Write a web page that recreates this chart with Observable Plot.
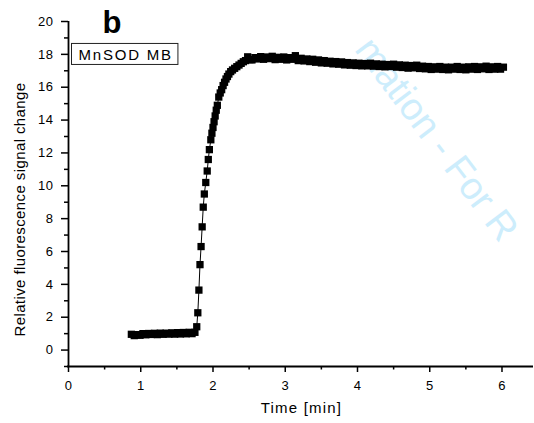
<!DOCTYPE html>
<html>
<head>
<meta charset="utf-8">
<script src="https://cdn.jsdelivr.net/npm/d3@7"></script>
<script src="https://cdn.jsdelivr.net/npm/@observablehq/plot@0.6"></script>
<style>
  html, body { margin: 0; padding: 0; background: #fff; }
  #chart svg { display: block; }
  .tick-lbl text { letter-spacing: 0.5px; }
</style>
</head>
<body>
<div id="chart"></div>
<script>
// Time [min]
const time = [
  0.87, 0.91, 0.95, 0.99, 1.03, 1.07, 1.11, 1.15, 1.19, 1.23, 1.27, 1.31,
  1.35, 1.39, 1.43, 1.47, 1.51, 1.55, 1.59, 1.63, 1.67, 1.71, 1.75,
  1.775, 1.79, 1.805, 1.82, 1.835, 1.85, 1.865, 1.88, 1.90, 1.92, 1.935, 1.95,
  1.97, 1.985, 2.00, 2.015, 2.03, 2.045, 2.06, 2.08, 2.10, 2.12, 2.14, 2.16,
  2.18, 2.20, 2.22, 2.245, 2.27, 2.30, 2.33, 2.36, 2.39, 2.42, 2.45, 2.48, 2.51,
  2.54, 2.58, 2.62, 2.66, 2.70, 2.74, 2.78, 2.82, 2.86, 2.90, 2.94, 2.98,
  3.02, 3.06, 3.10, 3.14, 3.18, 3.22, 3.26, 3.30, 3.34, 3.38, 3.42, 3.46,
  3.50, 3.54, 3.58, 3.62, 3.66, 3.70, 3.74, 3.78, 3.82, 3.86, 3.90, 3.94,
  3.98, 4.02, 4.06, 4.10, 4.14, 4.18, 4.22, 4.26, 4.30, 4.34, 4.38, 4.42,
  4.46, 4.50, 4.54, 4.58, 4.62, 4.66, 4.70, 4.74, 4.78, 4.82, 4.86, 4.90,
  4.94, 4.98, 5.02, 5.06, 5.10, 5.14, 5.18, 5.22, 5.26, 5.30, 5.34, 5.38,
  5.42, 5.46, 5.50, 5.54, 5.58, 5.62, 5.66, 5.70, 5.74, 5.78, 5.82, 5.86,
  5.90, 5.94, 5.98, 6.02
];
// Relative fluorescence signal change
const signal = [
  0.96, 0.88, 0.94, 0.90, 1.00, 0.93, 1.01, 0.95, 1.02, 0.94, 1.03, 0.96,
  1.03, 0.97, 1.05, 0.97, 1.06, 0.98, 1.07, 0.99, 1.08, 1.00, 1.08,
  1.42, 2.27, 3.65, 5.2, 6.3, 7.5, 8.7, 9.5, 10.2, 10.9, 11.6, 12.2,
  12.8, 13.2, 13.55, 13.9, 14.25, 14.6, 14.9, 15.4, 15.65, 15.85, 16.1, 16.3,
  16.5, 16.65, 16.8, 16.95, 17.05, 17.15, 17.25, 17.35, 17.45, 17.55, 17.62, 17.85, 17.68,
  17.66, 17.80, 17.72, 17.86, 17.70, 17.84, 17.74, 17.88, 17.68, 17.82, 17.70, 17.84,
  17.66, 17.80, 17.70, 17.92, 17.62, 17.76, 17.60, 17.72, 17.56, 17.70, 17.52, 17.66,
  17.48, 17.62, 17.46, 17.58, 17.42, 17.56, 17.40, 17.54, 17.36, 17.50, 17.34, 17.48,
  17.32, 17.46, 17.30, 17.44, 17.30, 17.46, 17.28, 17.42, 17.26, 17.40, 17.24, 17.38,
  17.26, 17.40, 17.22, 17.36, 17.20, 17.34, 17.16, 17.32, 17.18, 17.34, 17.14, 17.28,
  17.12, 17.26, 17.08, 17.24, 17.10, 17.26, 17.08, 17.22, 17.06, 17.22, 17.10, 17.26,
  17.08, 17.22, 17.06, 17.24, 17.10, 17.26, 17.08, 17.24, 17.12, 17.28, 17.08, 17.24,
  17.10, 17.26, 17.10, 17.22
];
const xTicks = [0, 1, 2, 3, 4, 5, 6];
const xMinorTicks = [0.5, 1.5, 2.5, 3.5, 4.5, 5.5];
const yTicks = [0, 2, 4, 6, 8, 10, 12, 14, 16, 18, 20];
const yMinorTicks = [-1, 1, 3, 5, 7, 9, 11, 13, 15, 17, 19];
const xLabel = "Time [min]";
const yLabel = "Relative fluorescence signal change";
const panelLabel = "b";
const seriesName = "MnSOD MB";
const watermark = "mation - For R";

const data = time.map((t, i) => ({t, v: signal[i]}));

const chart = Plot.plot({
  width: 534,
  height: 423,
  marginLeft: 68,
  marginRight: 0,
  marginTop: 21,
  marginBottom: 57,
  style: {fontFamily: "'Liberation Sans', Arial, Helvetica, sans-serif", background: "#fff", overflow: "visible", color: "#000"},
  x: {domain: [0, 6.45]},
  y: {domain: [-1, 20]},
  marks: [
    Plot.text([watermark], {frameAnchor: "top-left", dx: 368, dy: 118, rotate: 53, fontSize: 38, fill: "#cdedfc", textAnchor: "middle", lineAnchor: "middle"}),
    Plot.axisX({ticks: xTicks, tickSize: 6, tickPadding: 8, fontSize: 13, strokeWidth: 1.5, tickFormat: d => String(d), label: null, className: "tick-lbl"}),
    Plot.axisX({ticks: xMinorTicks, tickSize: 3.5, strokeWidth: 1.5, tickFormat: () => "", label: null}),
    Plot.axisY({ticks: yTicks, tickSize: 7, tickPadding: 8, fontSize: 13, strokeWidth: 1.5, tickFormat: d => String(d), label: null, className: "tick-lbl"}),
    Plot.axisY({ticks: yMinorTicks, tickSize: 4, strokeWidth: 1.5, tickFormat: () => "", label: null}),
    Plot.ruleY([-1], {x1: 0, x2: 6.45, stroke: "#000", strokeWidth: 1.8, dx: -1}),
    Plot.ruleX([0], {y1: -1, y2: 20, stroke: "#000", strokeWidth: 1.8}),
    Plot.line(data, {x: "t", y: "v", stroke: "#000", strokeWidth: 1}),
    Plot.dot(data, {x: "t", y: "v", symbol: "square", r: 4.1, fill: "#000", stroke: "none"}),
    Plot.text([xLabel], {frameAnchor: "bottom", dy: 36, lineAnchor: "top", fontSize: 15, fill: "#000"}),
    Plot.text([yLabel], {frameAnchor: "left", dx: -48, dy: 15.5, rotate: -90, textAnchor: "middle", lineAnchor: "middle", fontSize: 15, fill: "#000"}),
    Plot.text([panelLabel], {frameAnchor: "top-left", dx: 34, dy: -11, textAnchor: "start", lineAnchor: "top", fontSize: 31, fontWeight: "bold", fill: "#000"}),
    Plot.text([seriesName], {frameAnchor: "top-left", dx: 10, dy: 28.3, textAnchor: "start", lineAnchor: "top", fontSize: 15, fill: "#000"})
  ]
});

document.getElementById("chart").appendChild(chart);

// letter spacing for text labels & box around the series name
chart.querySelectorAll("text").forEach(t => {
  const s = t.textContent;
  if (s === xLabel) t.style.letterSpacing = "1.2px";
  if (s === yLabel) t.style.letterSpacing = "0.4px";
  if (s === seriesName) t.style.letterSpacing = "1.8px";
});
chart.querySelectorAll("text").forEach(t => {
  if (t.textContent === seriesName) {
    const b = t.getBBox();
    const g = t.parentNode;
    const rect = document.createElementNS("http://www.w3.org/2000/svg", "rect");
    rect.setAttribute("x", b.x - 7);
    rect.setAttribute("y", b.y - 3);
    rect.setAttribute("width", b.width + 12);
    rect.setAttribute("height", b.height + 4);
    rect.setAttribute("fill", "none");
    rect.setAttribute("stroke", "#222");
    rect.setAttribute("stroke-width", "1");
    if (t.getAttribute("transform")) rect.setAttribute("transform", t.getAttribute("transform"));
    g.insertBefore(rect, t);
  }
});
</script>
</body>
</html>
